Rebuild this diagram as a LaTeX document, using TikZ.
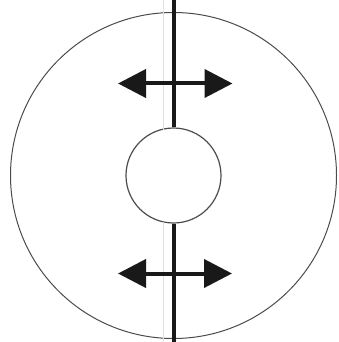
\documentclass[tikz,border=0pt]{standalone}
\usetikzlibrary{arrows.meta}
\begin{document}
\begin{tikzpicture}[x=1pt,y=-1pt,
  ring/.style={draw=black!70, line width=1pt},
  axisline/.style={draw=black!90, line width=4pt},
  faint/.style={draw=black!12, line width=0.9pt},
  pusharrow/.style={draw=black!90, line width=4pt,
    {Triangle[length=28pt,width=28pt]}-{Triangle[length=28pt,width=28pt]}}]
\useasboundingbox (0,0) rectangle (339,342);
\fill[white] (0,0) rectangle (339,342);
\coordinate (c) at (173.5,175.5);
\node[ring, circle, inner sep=0pt, minimum size=326pt] (outer) at (c) {};
\node[ring, circle, inner sep=0pt, minimum size=95pt, line width=1.2pt] (inner) at (c) {};
\coordinate (topend) at (173.5,0);
\coordinate (botend) at (173.5,342);
\coordinate (ftop) at (163,0);
\coordinate (fbot) at (163,342);
\draw[faint] (ftop) -- (163,129.5);
\draw[faint] (163,221.5) -- (fbot);
\draw[axisline] (topend) -- (inner.north);
\draw[axisline] (inner.south) -- (botend);
\coordinate (a1l) at (118,83.5);
\coordinate (a1r) at (232.5,83.5);
\coordinate (a2l) at (118,273.5);
\coordinate (a2r) at (232,273.5);
\draw[pusharrow] (a1l) -- (a1r);
\draw[pusharrow] (a2l) -- (a2r);
\end{tikzpicture}
\end{document}
